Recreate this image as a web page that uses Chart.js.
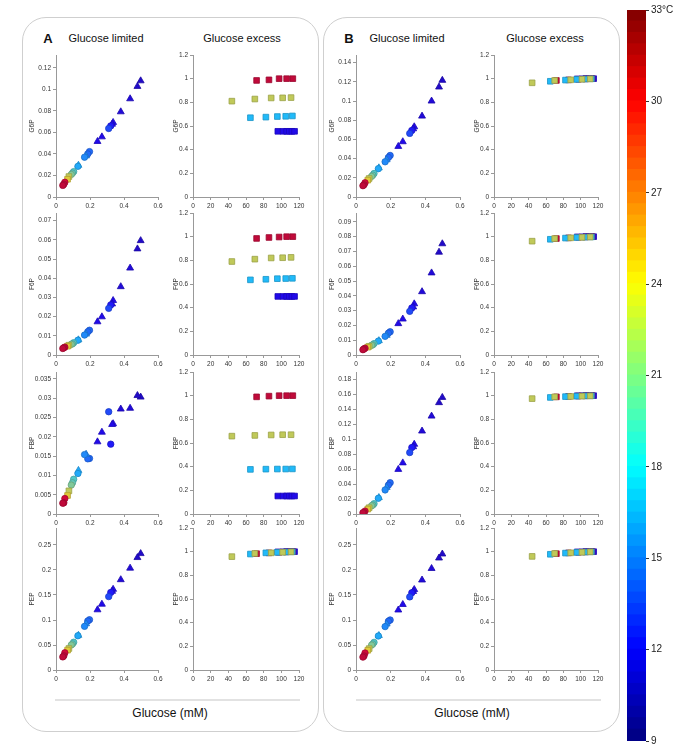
<!DOCTYPE html>
<html>
<head>
<meta charset="utf-8">
<script src="https://cdn.jsdelivr.net/npm/chart.js@4.4.1/dist/chart.umd.min.js"></script>
<style>
body{margin:0;background:#fff;width:685px;height:751px;position:relative;overflow:hidden;font-family:"Liberation Sans",Arial,sans-serif}
.panel{position:absolute;border:1.5px solid #cfcfcf;border-radius:24px;box-sizing:border-box}
canvas{position:absolute}
.t{position:absolute;color:#111;white-space:nowrap;text-align:center;width:160px;transform:translate(-80px,-50%)}
.hl{position:absolute;height:2px;background:#e2e2e2}
</style>
</head>
<body>
<div class="panel" style="left:22px;top:17px;width:297px;height:715px"></div>
<div class="panel" style="left:323px;top:17px;width:297px;height:715px"></div>
<div class="t" style="left:48px;top:38px;font-size:13px;font-weight:bold;width:20px;transform:translate(-10px,-50%)">A</div>
<div class="t" style="left:106px;top:38px;font-size:11px">Glucose limited</div>
<div class="t" style="left:242px;top:38px;font-size:11px">Glucose excess</div>
<div class="t" style="left:349px;top:38px;font-size:13px;font-weight:bold;width:20px;transform:translate(-10px,-50%)">B</div>
<div class="t" style="left:407px;top:38px;font-size:11px">Glucose limited</div>
<div class="t" style="left:545px;top:38px;font-size:11px">Glucose excess</div>
<div class="hl" style="left:55px;top:699px;width:245px"></div>
<div class="hl" style="left:356px;top:699px;width:245px"></div>
<div class="t" style="left:170px;top:713px;font-size:12px">Glucose (mM)</div>
<div class="t" style="left:472px;top:713px;font-size:12px">Glucose (mM)</div>
<script>
// glucose limited chemostats (same runs in every row)
const limGlucose = [0.040,0.046,0.052,0.068,0.076,0.090,0.097,0.104,0.129,0.132,0.168,0.177,0.187,0.197,0.310,0.322,0.244,0.270,0.330,0.336,0.381,0.436,0.479,0.498];
const limTemp    = [31,31,30.5,24,23,21,20,19.5,17,17,16,16,15,15,14,12.5,11.5,11.5,11.5,11.5,11,11,10.5,10.5];
const limMarker  = ['circle','circle','circle','rect','rect','circle','circle','circle','circle','triangle','circle','triangle','circle','circle','circle','circle','triangle','triangle','triangle','triangle','triangle','triangle','triangle','triangle'];

const g6pLimA = [0.0108,0.0118,0.0137,0.0165,0.019,0.021,0.0222,0.0236,0.0285,0.0295,0.037,0.0382,0.0401,0.0422,0.0637,0.0661,0.0516,0.0559,0.0677,0.0693,0.0792,0.0913,0.1028,0.108];
const f6pLimA = [0.0034,0.0038,0.0041,0.0046,0.0051,0.0056,0.0058,0.0064,0.0077,0.0079,0.0104,0.0109,0.0121,0.0129,0.0243,0.0261,0.0173,0.0199,0.0266,0.0284,0.0356,0.0453,0.0553,0.0596];
const fbpLimA = [0.0028,0.0029,0.004,0.0048,0.006,0.0075,0.0081,0.009,0.0105,0.0113,0.0154,0.0155,0.0143,0.0144,0.0265,0.0181,0.0187,0.0212,0.0232,0.0234,0.0272,0.0274,0.0307,0.0303];
const pepLimA = [0.0262,0.0284,0.0344,0.0397,0.043,0.05,0.0522,0.0556,0.0685,0.0694,0.0873,0.0926,0.098,0.1005,0.1468,0.155,0.1204,0.1316,0.1574,0.1614,0.1806,0.2037,0.2249,0.2328];

const g6pLimB = [0.0118,0.0127,0.0148,0.0176,0.0193,0.0215,0.0228,0.0245,0.0295,0.0304,0.0367,0.0388,0.0412,0.0433,0.0663,0.0694,0.0527,0.0576,0.0711,0.0732,0.0843,0.1,0.1146,0.1216];
const f6pLimB = [0.0036,0.0041,0.0046,0.0053,0.0059,0.0066,0.0069,0.0077,0.0094,0.0097,0.0126,0.0133,0.0148,0.0157,0.0295,0.0318,0.0212,0.0243,0.0325,0.0346,0.0428,0.0555,0.0695,0.0752];
const fbpLimB = [0.0017,0.0021,0.0039,0.0066,0.0084,0.011,0.012,0.0138,0.021,0.022,0.0322,0.0356,0.0387,0.0419,0.0822,0.0889,0.0597,0.0684,0.09,0.0933,0.111,0.131,0.149,0.156];
const pepLimB = [0.0258,0.0281,0.034,0.0395,0.0428,0.0498,0.052,0.0553,0.068,0.069,0.0868,0.092,0.0975,0.1,0.1462,0.1545,0.12,0.131,0.157,0.161,0.18,0.203,0.224,0.232];

// glucose excess: four temperature groups
const excTemp = [23, 17.5, 31, 11.5];
const excGlucose = [
  [44, 70, 88.5, 101.5, 111],
  [65, 82.5, 95.5, 105, 112.5],
  [72, 86, 97.5, 106, 113],
  [96, 102, 106, 109, 112, 115]
];
const g6pExcA = [[0.81,0.828,0.837,0.838,0.84],[0.67,0.675,0.68,0.682,0.685],[0.985,0.99,1.0,1.0,1.0],[0.555,0.555,0.555,0.555,0.555,0.555]];
const f6pExcA = [[0.79,0.81,0.82,0.822,0.825],[0.635,0.64,0.645,0.646,0.648],[0.985,0.993,0.997,1.0,1.0],[0.495,0.495,0.495,0.495,0.495,0.495]];
const fbpExcA = [[0.658,0.664,0.668,0.67,0.67],[0.377,0.379,0.38,0.38,0.381],[0.99,0.996,1.0,1.0,1.0],[0.152,0.152,0.152,0.152,0.152,0.152]];
const pepExcA = [[0.958,0.985,0.99,0.995,0.998],[0.98,0.99,0.994,0.997,0.999],[0.983,0.99,0.995,0.998,1.0],[0.998,0.999,1.0,1.0,1.0,1.0]];
const g6pExcB = [[0.965,0.985,0.99,0.995,0.998],[0.978,0.988,0.994,0.997,0.999],[0.985,0.99,0.995,0.998,1.0],[0.998,0.999,1.0,1.0,1.0,1.0]];
const f6pExcB = [[0.962,0.984,0.99,0.994,0.997],[0.978,0.988,0.993,0.996,0.998],[0.984,0.99,0.995,0.998,1.0],[0.998,0.999,1.0,1.0,1.0,1.0]];
const fbpExcB = [[0.975,0.99,0.993,0.996,0.998],[0.985,0.992,0.996,0.998,0.999],[0.99,0.994,0.997,0.999,1.0],[0.999,1.0,1.0,1.0,1.0,1.0]];
const pepExcB = [[0.96,0.985,0.99,0.995,0.998],[0.978,0.988,0.994,0.997,0.999],[0.983,0.99,0.995,0.998,1.0],[0.998,0.999,1.0,1.0,1.0,1.0]];

const metNames = ['G6P', 'F6P', 'FBP', 'PEP'];
const cbTicks = [9, 12, 15, 18, 21, 24, 27, 30, 33];

// jet colormap, 9..33 °C
function jet(T) {
  const t = (T - 9) / 24;
  const f = v => Math.round(Math.max(0, Math.min(1, v)) * 255);
  return [f(1.5 - Math.abs(4*t - 3)), f(1.5 - Math.abs(4*t - 2)), f(1.5 - Math.abs(4*t - 1))];
}
const rgb = c => 'rgb(' + c.join(',') + ')';
const tint = [130, 40, 230];
const fillOf = T => rgb(jet(T).map((v, i) => Math.round(v*0.75 + tint[i]*0.25)));
const edgeOf = T => rgb(jet(T).map((v, i) => Math.round((v*0.75 + tint[i]*0.25) * 0.8)));

const fmt = v => String(parseFloat(v.toFixed(6)));

function subplot(left, top, w, h, xmax, xstep, ymax, ystep, name, padL, datasets) {
  const padT = 6, padR = 12, padB = 20;
  const cv = document.createElement('canvas');
  cv.width = w + padL + padR;
  cv.height = h + padT + padB;
  cv.style.left = (left - padL) + 'px';
  cv.style.top = (top - padT) + 'px';
  document.body.appendChild(cv);
  const tickFont = {family: 'Liberation Sans', size: 6.5};
  new Chart(cv, {
    type: 'scatter',
    data: {datasets: datasets},
    options: {
      responsive: false,
      animation: false,
      layout: {padding: {left: 0, top: padT, right: padR, bottom: 0}},
      plugins: {legend: {display: false}, tooltip: {enabled: false}},
      scales: {
        x: {
          type: 'linear', min: 0, max: xmax,
          ticks: {stepSize: xstep, includeBounds: false, font: tickFont, color: '#333', padding: 2, maxRotation: 0, callback: fmt},
          grid: {drawOnChartArea: false, tickLength: 3, color: '#999'},
          border: {color: '#999'},
          afterFit: s => { s.height = padB; }
        },
        y: {
          min: 0, max: ymax,
          ticks: {stepSize: ystep, includeBounds: false, font: tickFont, color: '#333', padding: 2, callback: fmt},
          grid: {drawOnChartArea: false, tickLength: 3, color: '#999'},
          border: {color: '#999'},
          title: {display: true, text: name, font: tickFont, color: '#333', padding: 0},
          afterFit: s => { s.width = padL; }
        }
      }
    }
  });
}

function limitedSet(yvals) {
  const idx = limGlucose.map((_, i) => i).reverse();
  return [{
    data: idx.map(i => ({x: limGlucose[i], y: yvals[i]})),
    pointStyle: idx.map(i => limMarker[i]),
    pointRadius: idx.map(i => limMarker[i] === 'triangle' ? 4 : (limMarker[i] === 'rect' ? 4 : 3.2)),
    backgroundColor: idx.map(i => fillOf(limTemp[i])),
    borderColor: idx.map(i => edgeOf(limTemp[i])),
    borderWidth: 0.8
  }];
}

function excessSets(yvals) {
  return excTemp.map((T, g) => ({
    data: excGlucose[g].map((x, i) => ({x: x, y: yvals[g][i]})),
    pointStyle: 'rect',
    pointRadius: 4,
    backgroundColor: fillOf(T),
    borderColor: edgeOf(T),
    borderWidth: 0.8
  }));
}

const rowTop = [55, 213, 372, 528];
const rowH = 142;
const limA = [g6pLimA, f6pLimA, fbpLimA, pepLimA];
const limB = [g6pLimB, f6pLimB, fbpLimB, pepLimB];
const excA = [g6pExcA, f6pExcA, fbpExcA, pepExcA];
const excB = [g6pExcB, f6pExcB, fbpExcB, pepExcB];
const yMaxA = [[0.132, 0.02], [0.074, 0.01], [0.0368, 0.005], [0.284, 0.05]];
const yMaxB = [[0.148, 0.02], [0.096, 0.01], [0.19, 0.02], [0.284, 0.05]];

for (let r = 0; r < 4; r++) {
  subplot(56, rowTop[r], 102, rowH, 0.6, 0.2, yMaxA[r][0], yMaxA[r][1], metNames[r], 28, limitedSet(limA[r]));
  subplot(193, rowTop[r], 106, rowH, 120, 20, 1.2, 0.2, metNames[r], 21, excessSets(excA[r]));
  subplot(356, rowTop[r], 104, rowH, 0.6, 0.2, yMaxB[r][0], yMaxB[r][1], metNames[r], 28, limitedSet(limB[r]));
  subplot(494, rowTop[r], 104, rowH, 120, 20, 1.2, 0.2, metNames[r], 21, excessSets(excB[r]));
}

// colour bar
const cb = document.createElement('canvas');
cb.width = 58; cb.height = 751;
cb.style.left = '627px'; cb.style.top = '0px';
document.body.appendChild(cb);
const nBands = 64;
const bands = [];
for (let k = 0; k < nBands; k++) {
  const lo = 9 + 24 * k / nBands, hi = 9 + 24 * (k + 1) / nBands;
  bands.push({data: [[lo, hi + 0.02]], backgroundColor: rgb(jet((lo + hi) / 2)), borderWidth: 0, barPercentage: 1, categoryPercentage: 1, grouped: false});
}
new Chart(cb, {
  type: 'bar',
  data: {labels: ['T'], datasets: bands},
  options: {
    responsive: false,
    animation: false,
    layout: {padding: {left: 0, top: 10, right: 0, bottom: 10}},
    plugins: {legend: {display: false}, tooltip: {enabled: false}},
    scales: {
      x: {display: false},
      y: {
        position: 'right', min: 9, max: 33,
        afterBuildTicks: s => { s.ticks = cbTicks.map(v => ({value: v})); },
        ticks: {font: {family: 'Liberation Sans', size: 10}, color: '#222', padding: 2, callback: v => v === 33 ? '33°C' : String(v)},
        grid: {drawOnChartArea: false, tickLength: 3, color: '#333'},
        border: {display: false},
        afterFit: s => { s.width = 39; }
      }
    }
  }
});
</script>
</body>
</html>
